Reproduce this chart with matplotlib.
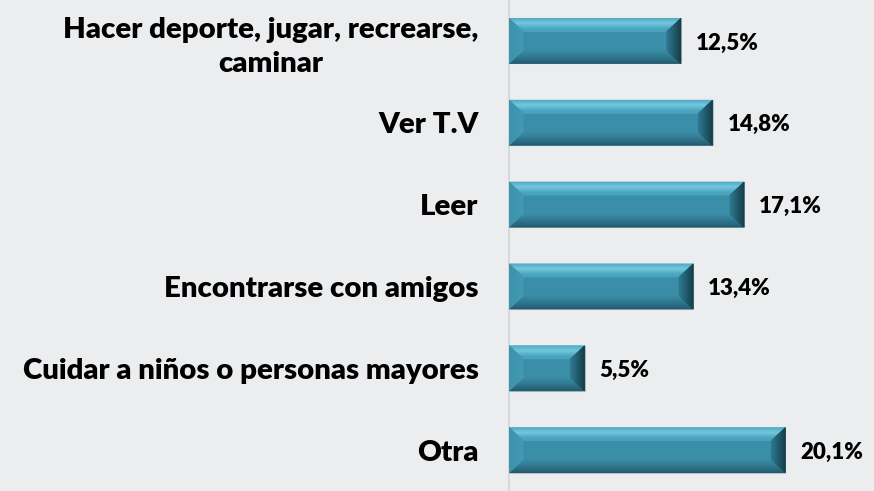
import numpy as np
import matplotlib.pyplot as plt
from matplotlib.patches import Polygon, Rectangle
from matplotlib.colors import to_rgb

categories = ["Hacer deporte, jugar, recrearse,\ncaminar", "Ver T.V", "Leer",
              "Encontrarse con amigos", "Cuidar a niños o personas mayores", "Otra"]
values = [12.5, 14.8, 17.1, 13.4, 5.5, 20.1]
value_labels = ["12,5%", "14,8%", "17,1%", "13,4%", "5,5%", "20,1%"]

bg = "#ECEDEF"
face = "#3A8EA8"

plt.rcParams['font.family'] = ['Lato', 'DejaVu Sans']

fig = plt.figure(figsize=(8.74, 4.91), dpi=100, facecolor=bg)
ax = fig.add_axes([509 / 874, 0.0, 1 - 509 / 874, 1.0], facecolor=bg)

ax.set_xlim(0, 365 / 13.75)
ax.set_ylim(len(values) - 0.5, -0.5)

# pixel -> data conversion for bevel size
px_x = (365 / 13.75) / 365
px_y = len(values) / 491.0
bh = 0.55
bx = 14 * px_x
by = 13 * px_y


def blend(c1, c2, t):
    a, b = np.array(to_rgb(c1)), np.array(to_rgb(c2))
    return tuple(a + (b - a) * t)


def strip(ax, pts, c):
    ax.add_patch(Polygon(pts, closed=True, facecolor=c, edgecolor=c, lw=0.6, zorder=3))


def bevel_bar(ax, y, w):
    top, bot = y - bh / 2, y + bh / 2
    ax.add_patch(Rectangle((0, top), w, bh, facecolor=face, edgecolor="#B9C3C8",
                           lw=0.8, zorder=2))
    n = 14
    # top bevel: light band fading in and out
    for i in range(n):
        t0, t1 = i / n, (i + 1) / n
        tm = (t0 + t1) / 2
        c = blend("#4AA4BE", "#72C8DF", max(0.0, 1 - abs(tm - 0.4) * 2.2))
        strip(ax, [(bx * t0, top + by * t0), (w - bx * t0, top + by * t0),
                   (w - bx * t1, top + by * t1), (bx * t1, top + by * t1)], c)
    # bottom bevel: dark toward edge
    for i in range(n):
        t0, t1 = i / n, (i + 1) / n
        c = blend("#20566A", "#3A8CA6", ((t0 + t1) / 2) ** 0.8)
        strip(ax, [(bx * t0, bot - by * t0), (w - bx * t0, bot - by * t0),
                   (w - bx * t1, bot - by * t1), (bx * t1, bot - by * t1)], c)
    # left bevel
    for i in range(n):
        t0, t1 = i / n, (i + 1) / n
        c = blend("#3C92AB", "#4299B2", (t0 + t1) / 2)
        strip(ax, [(bx * t0, top + by * t0), (bx * t1, top + by * t1),
                   (bx * t1, bot - by * t1), (bx * t0, bot - by * t0)], c)
    # right bevel: dark
    for i in range(n):
        t0, t1 = i / n, (i + 1) / n
        c = blend("#143B47", "#2E778E", (t0 + t1) / 2)
        strip(ax, [(w - bx * t0, top + by * t0), (w - bx * t1, top + by * t1),
                   (w - bx * t1, bot - by * t1), (w - bx * t0, bot - by * t0)], c)


ypos = np.arange(len(values))
for y, v, lab in zip(ypos, values, value_labels):
    bevel_bar(ax, y, v)
    ax.text(v + 15 * px_x, y + 2 * px_y, lab, ha="left", va="center",
            fontsize=16, fontweight="heavy", color="black")

ax.set_yticks(ypos)
ax.set_yticklabels(categories, fontsize=21.2, fontweight="heavy", multialignment="center",
                   linespacing=1.35)
ax.tick_params(axis="y", length=0, pad=22)
ax.set_xticks([])
for s in ["top", "right", "bottom"]:
    ax.spines[s].set_visible(False)
ax.spines["left"].set_color("#D4D5D7")
ax.spines["left"].set_linewidth(1.2)

fig.savefig("out.png", dpi=100, facecolor=bg)
